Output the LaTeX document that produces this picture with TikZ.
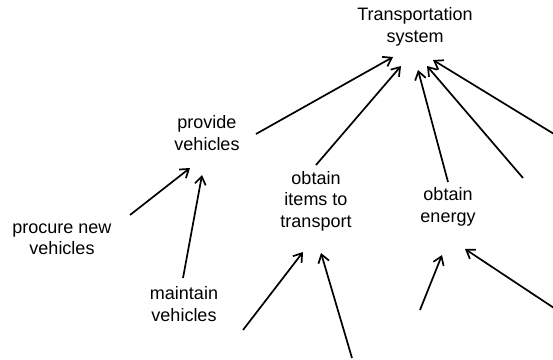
\documentclass[tikz,border=0pt]{standalone}
\usepackage{fontspec}
\setmainfont{Liberation Sans}
\usetikzlibrary{arrows.meta}
\begin{document}
\begin{tikzpicture}[x=1pt,y=-1pt,
  lbl/.style={align=center,inner sep=0pt,font=\fontsize{18}{21.5}\selectfont},
  arr/.style={-{Straight Barb[length=8pt,width=11pt]},line width=1.7pt}]
\useasboundingbox (0,0) rectangle (553,359);
% labels
\node[lbl] (ts) at (415,27) {Transportation\\system};
\node[lbl] (pv) at (207,133) {provide\\vehicles};
\node[lbl] (pn) at (62,239) {procure new\\vehicles};
\node[lbl] (mv) at (184,304) {maintain\\vehicles};
\node[lbl] (oi) at (316,201) {obtain\\items to\\transport};
\node[lbl] (oe) at (448,207) {obtain\\energy};
% connector end points
\coordinate (pv-out) at (256,134);
\coordinate (ts-in1) at (393,57);
\coordinate (oi-out) at (316,165);
\coordinate (ts-in2) at (401,66);
\coordinate (oe-out) at (448,182);
\coordinate (ts-in3) at (418,70);
\coordinate (free1) at (523,178);
\coordinate (ts-in4) at (427,66);
\coordinate (free2) at (554,134);
\coordinate (ts-in5) at (433,60);
\coordinate (pn-out) at (130,215);
\coordinate (pv-in1) at (190,168);
\coordinate (mv-out) at (183,278);
\coordinate (pv-in2) at (202,175);
\coordinate (free3) at (243,330);
\coordinate (oi-in1) at (303,252);
\coordinate (free4) at (352,358);
\coordinate (oi-in2) at (321,253);
\coordinate (free5) at (420,310);
\coordinate (oe-in1) at (442,255);
\coordinate (free6) at (554,308);
\coordinate (oe-in2) at (465,249);
% connectors
\draw[arr] (pv-out) -- (ts-in1);
\draw[arr] (oi-out) -- (ts-in2);
\draw[arr] (oe-out) -- (ts-in3);
\draw[arr] (free1) -- (ts-in4);
\draw[arr] (free2) -- (ts-in5);
\draw[arr] (pn-out) -- (pv-in1);
\draw[arr] (mv-out) -- (pv-in2);
\draw[arr] (free3) -- (oi-in1);
\draw[arr] (free4) -- (oi-in2);
\draw[arr] (free5) -- (oe-in1);
\draw[arr] (free6) -- (oe-in2);
\end{tikzpicture}
\end{document}
